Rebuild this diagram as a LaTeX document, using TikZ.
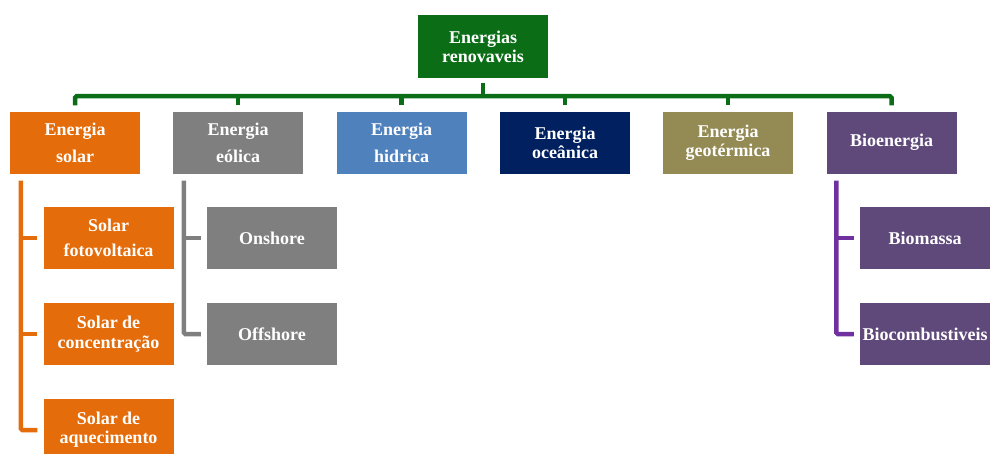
\documentclass[tikz,border=0pt]{standalone}
\usepackage{fontspec}
\setmainfont{Liberation Serif}
\definecolor{cgreen}{HTML}{0B6E17}
\definecolor{corange}{HTML}{E46C0A}
\definecolor{cgray}{HTML}{7F7F7F}
\definecolor{cblue}{HTML}{4F81BD}
\definecolor{cnavy}{HTML}{002060}
\definecolor{colive}{HTML}{948A54}
\definecolor{cpurple}{HTML}{5F497A}
\definecolor{cpline}{HTML}{7030A0}
\begin{document}
\begin{tikzpicture}[x=1pt,y=-1pt,
  box/.style={minimum width=130pt,minimum height=62pt,inner sep=0pt,text=white,
    font=\fontsize{18}{19}\selectfont\bfseries,align=center},
  conn/.style={line width=4.5pt,rounded corners=1.5pt}]
\useasboundingbox (0,0) rectangle (991,453);
% top
\node[box,fill=cgreen,minimum height=63pt] (top) at (483,46.5) {Energias\\renovaveis};
% level 1
\node[box,fill=corange] (solar) at (75,142.5) {Energia\\[8pt]solar};
\node[box,fill=cgray] (eolica) at (238,142.5) {Energia\\[8pt]eólica};
\node[box,fill=cblue] (hidrica) at (401.5,142.5) {Energia\\[8pt]hidrica};
\node[box,fill=cnavy] (oceanica) at (565,142.5) {Energia\\oceânica};
\node[box,fill=colive] (geo) at (728,142.5) {Energia\\geotérmica};
\node[box,fill=cpurple] (bio) at (891.5,142.5) {Bioenergia};
% solar children
\node[box,fill=corange] (sf) at (108.5,238) {Solar\\[6pt]fotovoltaica};
\node[box,fill=corange] (sc) at (108.5,334) {Solar de\\[1pt]concentração};
\node[box,fill=corange] (sa) at (108.5,430) {Solar de\\aquecimento};
% eolica children
\node[box,fill=cgray] (on) at (272,238) {Onshore};
\node[box,fill=cgray] (off) at (272,334) {Offshore};
% bio children
\node[box,fill=cpurple] (bm) at (925,238) {Biomassa};
\node[box,fill=cpurple] (bc) at (925,334) {Biocombustiveis};
% bus
\draw[conn,cgreen] ([yshift=-5pt]top.south) -- ++(0,13) coordinate (bus);
\draw[conn,cgreen] ([yshift=6pt]solar.north) |- (bus) -| ([yshift=6pt]bio.north);
\foreach \n in {eolica,hidrica,oceanica,geo}
  \draw[conn,cgreen] ([yshift=6pt]\n.north) -- (\n.north |- bus);
% solar branch
\coordinate (sl) at ([xshift=11pt,yshift=-7pt]solar.south west);
\draw[conn,corange] (sl) |- ([xshift=-6pt]sa.west);
\draw[conn,corange] (sl |- sf.west) -- ([xshift=-6pt]sf.west);
\draw[conn,corange] (sl |- sc.west) -- ([xshift=-6pt]sc.west);
% eolica branch
\coordinate (el) at ([xshift=11pt,yshift=-7pt]eolica.south west);
\draw[conn,cgray] (el) |- ([xshift=-6pt]off.west);
\draw[conn,cgray] (el |- on.west) -- ([xshift=-6pt]on.west);
% bio branch
\coordinate (bl) at ([xshift=10pt,yshift=-7pt]bio.south west);
\draw[conn,cpline] (bl) |- ([xshift=-6pt]bc.west);
\draw[conn,cpline] (bl |- bm.west) -- ([xshift=-6pt]bm.west);
\end{tikzpicture}
\end{document}
